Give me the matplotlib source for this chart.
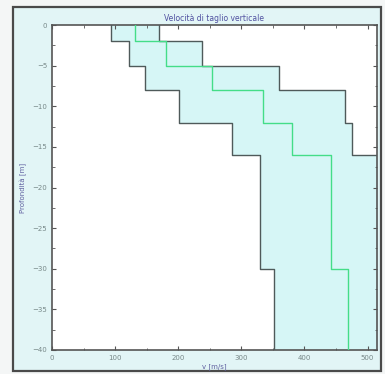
import matplotlib
matplotlib.use("Agg")
import matplotlib.pyplot as plt
from matplotlib.patches import Rectangle
from matplotlib.ticker import MultipleLocator
import numpy as np

# layer boundaries (depth, m)
depth_top = [0, -2, -5, -8, -12, -16, -30]
depth_bot = [-2, -5, -8, -12, -16, -30, -40]
# shear wave velocity per layer (m/s)
v_min = [93, 122, 147, 201, 285, 330, 352]
v_mean = [131, 180, 254, 334, 381, 442, 469]
v_max = [170, 237, 360, 465, 476, 554, 586]

x_ticks = [0, 100, 200, 300, 400, 500]
y_ticks = [0, -5, -10, -15, -20, -25, -30, -35, -40]

def step_xy(vals):
    xs, ys = [], []
    for v, t, b in zip(vals, depth_top, depth_bot):
        xs += [v, v]
        ys += [t, b]
    return xs, ys

fig = plt.figure(figsize=(3.85, 3.74), dpi=100)
fig.patch.set_facecolor("#f4f6f6")
frame = Rectangle((13/385, 3/374), (381-13)/385, (367-3)/374, transform=fig.transFigure,
                  facecolor="#e2f5f6", edgecolor="#4a4a4a", linewidth=1.6, zorder=-10)
fig.add_artist(frame)

ax = fig.add_axes([52/385, (374-350)/374, (377-52)/385, (350-25)/374])
ax.set_zorder(5)
ax.set_facecolor("white")

xmn, ymn = step_xy(v_min)
xme, yme = step_xy(v_mean)
xmx, ymx = step_xy(v_max)

ax.fill_betweenx(ymn, xmn, xmx, color="#d6f6f6", linewidth=0, zorder=1)
ax.plot(xmn, ymn, color="#4f5a5a", lw=1.0, zorder=3)
ax.plot(xmx, ymx, color="#4f5a5a", lw=1.0, zorder=3)
ax.plot(xme, yme, color="#44dd88", lw=1.0, zorder=3)

ax.set_xlim(0, 515)
ax.set_ylim(-40, 0)
ax.set_xticks(x_ticks)
ax.set_yticks(y_ticks)
ax.xaxis.set_minor_locator(MultipleLocator(50))
ax.yaxis.set_minor_locator(MultipleLocator(2.5))
ax.tick_params(which="both", direction="in", top=True, right=True, colors="#555555",
               labelsize=5, labelcolor="#778888")
ax.tick_params(which="major", length=3, width=0.8)
ax.tick_params(which="minor", length=1.8, width=0.6)
for s in ax.spines.values():
    s.set_color("#555555")
    s.set_linewidth(1.2)

ax.set_title("Velocità di taglio verticale", fontsize=5.5, color="#5050a0", pad=3)
ax.set_xlabel("v [m/s]", fontsize=5, color="#6060a0", labelpad=2)
ax.set_ylabel("Profondità [m]", fontsize=5, color="#6060a0", labelpad=4)

fig.savefig("out.png", dpi=100, facecolor=fig.get_facecolor())
